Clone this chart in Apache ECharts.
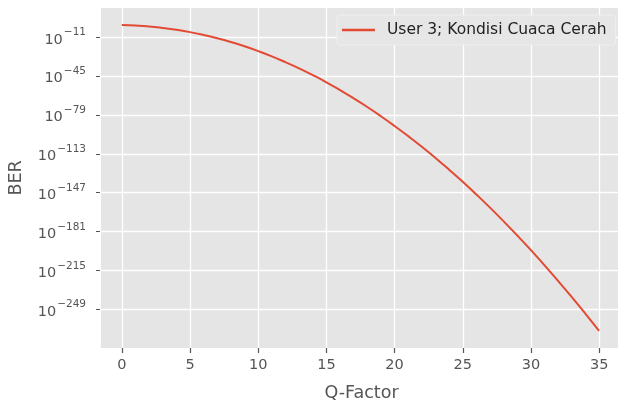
<!DOCTYPE html>
<html>
<head>
<meta charset="utf-8">
<script src="https://cdn.jsdelivr.net/npm/echarts@6/dist/echarts.min.js"></script>
<style>
html,body{margin:0;padding:0;background:#fff;}
#c{width:618px;height:403px;}
</style>
</head>
<body>
<div id="c"></div>
<script>
// Q-factor values (x) and log10(BER)
const qFactor = [0,1,2,3,4,5,6,7,8,9,10,11,12,13,14,15,16,17,18,19,20,21,22,23,24,25,26,27,28,29,30,31,32,33,34,35];
const berLog10 = [-0.3,-0.8,-1.6,-2.9,-4.5,-6.5,-9.0,-11.9,-15.2,-18.9,-23.1,-27.7,-32.8,-38.2,-44.1,-50.4,-57.2,-64.4,-72.0,-80.1,-88.6,-97.5,-106.8,-116.6,-126.9,-137.5,-148.6,-160.1,-172.1,-184.5,-197.3,-210.6,-224.3,-238.4,-253.0,-268.0];
const xTicks = [0,5,10,15,20,25,30,35];
const yTickExps = [-11,-45,-79,-113,-147,-181,-215,-249];
const seriesName = 'User 3; Kondisi Cuaca Cerah';
const xTitle = 'Q-Factor';
const yTitle = 'BER';

const chart = echarts.init(document.getElementById('c'), null, {renderer:'canvas'});
const font = 'DejaVu Sans';
chart.setOption({
  animation:false,
  backgroundColor:'#ffffff',
  textStyle:{fontFamily:font},
  grid:{left:100, top:8, width:523, height:340, show:true, backgroundColor:'#E5E5E5', borderWidth:0, containLabel:false, outerBoundsMode:'none'},
  legend:{
    left:337, top:15,
    padding:[7,9,7,5],
    backgroundColor:'rgba(229,229,229,0.9)',
    borderColor:'#efefef', borderWidth:1, borderRadius:3,
    icon:'rect', itemWidth:33, itemHeight:2.5, itemGap:10,
    textStyle:{fontFamily:font, fontSize:15.5, color:'#222', lineHeight:14, padding:[0,0,0,7]},
    data:[seriesName]
  },
  xAxis:{
    type:'value', min:-1.6, max:36.75, position:'bottom',
    name:xTitle, nameLocation:'middle', nameGap:36,
    nameTextStyle:{fontFamily:font, fontSize:17.5, color:'#555'},
    axisLine:{show:true, onZero:false, lineStyle:{color:'#ffffff', width:1}},
    axisTick:{show:true, inside:false, length:5, lineStyle:{color:'#555', width:1.2}, customValues:xTicks},
    axisLabel:{fontFamily:font, fontSize:14.5, color:'#555', margin:10, customValues:xTicks},
    splitLine:{show:true, lineStyle:{color:'#ffffff', width:1.3}}
  },
  yAxis:{
    type:'value', min:-282.9, max:14.6, position:'left',
    name:yTitle, nameLocation:'middle', nameGap:75,
    nameTextStyle:{fontFamily:font, fontSize:17.5, color:'#555'},
    axisLine:{show:true, onZero:false, lineStyle:{color:'#ffffff', width:1}},
    axisTick:{show:true, inside:false, length:4, lineStyle:{color:'#555', width:1}, customValues:yTickExps},
    axisLabel:{
      margin:14, customValues:yTickExps,
      formatter:function(v){ return '{b|10}{s|\u2212' + Math.abs(Math.round(v)) + '}'; },
      rich:{
        b:{fontFamily:font, fontSize:14.5, color:'#555', lineHeight:20, verticalAlign:'bottom'},
        s:{fontFamily:font, fontSize:10.5, color:'#555', lineHeight:20, verticalAlign:'top', padding:[0,0,0,1]}
      }
    },
    splitLine:{show:true, lineStyle:{color:'#ffffff', width:1.3}}
  },
  series:[{
    name:seriesName, type:'line',
    data:qFactor.map((q,i)=>[q, berLog10[i]]),
    showSymbol:false, symbol:'none', smooth:true,
    lineStyle:{color:'#E24A33', width:2},
    itemStyle:{color:'#E24A33'}
  }]
});
</script>
</body>
</html>
